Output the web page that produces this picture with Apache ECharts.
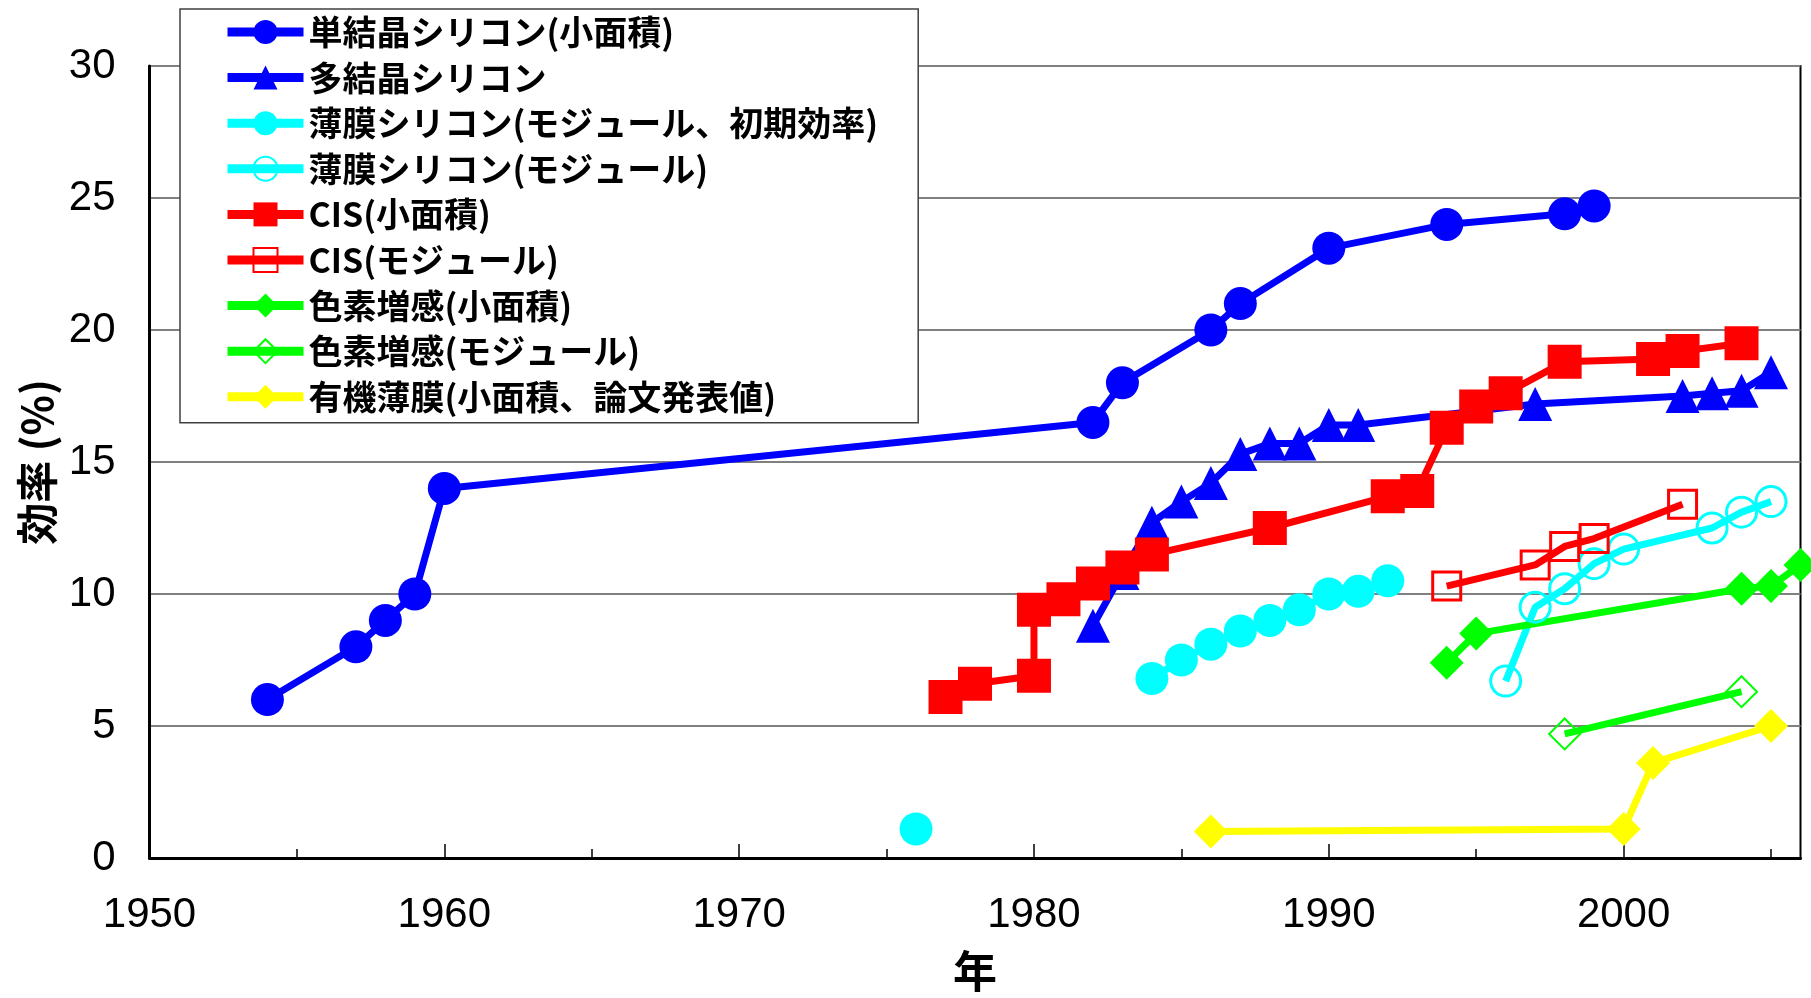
<!DOCTYPE html>
<html>
<head>
<meta charset="utf-8">
<script src="https://cdn.jsdelivr.net/npm/echarts@6/dist/echarts.min.js"></script>
<style>
html,body{margin:0;padding:0;background:#fff;}
#chart{width:1811px;height:998px;}
</style>
</head>
<body>
<div id="chart"></div>
<script>
// ---- data ----
const seriesNames = [
  '単結晶シリコン(小面積)',
  '多結晶シリコン',
  '薄膜シリコン(モジュール、初期効率)',
  '薄膜シリコン(モジュール)',
  'CIS(小面積)',
  'CIS(モジュール)',
  '色素増感(小面積)',
  '色素増感(モジュール)',
  '有機薄膜(小面積、論文発表値)'
];
const monoSiYears = [1954,1957,1958,1959,1960,1982,1983,1986,1987,1990,1994,1998,1999];
const monoSiEff   = [6.0,8.0,9.0,10.0,14.0,16.5,18.0,20.0,21.0,23.1,24.0,24.4,24.7];
const polySiYears = [1982,1983,1984,1985,1986,1987,1988,1989,1990,1991,1997,2002,2003,2004,2005];
const polySiEff   = [8.8,10.8,12.7,13.5,14.2,15.3,15.7,15.7,16.4,16.4,17.2,17.5,17.6,17.7,18.4];
const thinSiInitYears = [1976,null,1984,1985,1986,1987,1988,1989,1990,1991,1992];
const thinSiInitEff   = [1.1,null,6.8,7.5,8.1,8.6,9.0,9.4,10.0,10.1,10.5];
const thinSiModYears = [1996,1997,1998,1999,2000,2003,2004,2005];
const thinSiModEff   = [6.7,9.5,10.2,11.15,11.7,12.5,13.1,13.5];
const cisYears = [1977,1978,1980,1980,1981,1982,1983,1984,1988,1992,1993,1994,1995,1996,1998,2001,2002,2004];
const cisEff   = [6.1,6.6,6.9,9.4,9.8,10.4,11.0,11.5,12.5,13.7,13.9,16.3,17.1,17.6,18.8,18.9,19.2,19.5];
const cisModYears = [1994,1997,1998,1999,2002];
const cisModEff   = [10.3,11.1,11.8,12.1,13.4];
const dyeYears = [1994,1995,2004,2005,2006];
const dyeEff   = [7.4,8.5,10.2,10.3,11.1];
const dyeModYears = [1998,2004];
const dyeModEff   = [4.7,6.3];
const orgYears = [1986,2000,2001,2005];
const orgEff   = [1.0,1.1,3.6,5.0];
const xLabelValues = [1950,1960,1970,1980,1990,2000];
const xMinorTickValues = [1955,1965,1975,1985,1995,2005];
const yTicks = [0,5,10,15,20,25,30];

// ---- helpers ----
function pairs(xs, ys){
  return xs.map((x,i)=> (x===null||ys[i]===null) ? ['-','-'] : [x, ys[i]]);
}
const CJK = '"Noto Sans CJK JP", "Noto Sans CJK SC", sans-serif';
const NUM = '"Liberation Sans", Arial, sans-serif';
const LW = 7;

function filled(name, xs, ys, color, symbol, size){
  return {
    name, type:'line', data: pairs(xs, ys), symbol, symbolSize: size,
    lineStyle:{color, width:LW}, itemStyle:{color, borderWidth:0},
    emphasis:{disabled:true}, animation:false, connectNulls:false
  };
}
function hollow(name, xs, ys, color, symbol, size, bw){
  return {
    name, type:'line', data: pairs(xs, ys), symbol, symbolSize: size,
    lineStyle:{color, width:LW},
    itemStyle:{color:'rgba(255,255,255,0)', borderColor:color, borderWidth:bw},
    emphasis:{disabled:true}, animation:false
  };
}

const series = [
  filled(seriesNames[0], monoSiYears, monoSiEff, '#0000FF', 'circle', 33),
  filled(seriesNames[1], polySiYears, polySiEff, '#0000FF', 'triangle', 34),
  filled(seriesNames[2], thinSiInitYears, thinSiInitEff, '#00FFFF', 'circle', 33),
  hollow(seriesNames[3], thinSiModYears, thinSiModEff, '#00FFFF', 'circle', 30, 3),
  filled(seriesNames[4], cisYears, cisEff, '#FF0000', 'rect', 34),
  hollow(seriesNames[5], cisModYears, cisModEff, '#FF0000', 'rect', 28, 3),
  filled(seriesNames[6], dyeYears, dyeEff, '#00FF00', 'diamond', 34),
  hollow(seriesNames[7], dyeModYears, dyeModEff, '#00FF00', 'diamond', 31, 2),
  filled(seriesNames[8], orgYears, orgEff, '#FFFF00', 'diamond', 34)
];

const chart = echarts.init(document.getElementById('chart'), null, {renderer:'canvas'});
chart.setOption({
  animation:false,
  backgroundColor:'#fff',
  grid:{left:149.5, right:10.5, top:66, bottom:135, show:true, borderColor:'#000', borderWidth:2, containLabel:false},
  legend:{
    show:true, orient:'vertical', left:180, top:9,
    padding:[5,40,8,43],
    itemWidth:76, itemHeight:30, itemGap:9.6,
    backgroundColor:'#fff', borderColor:'#404040', borderWidth:1.5,
    textStyle:{fontSize:34, fontWeight:'bold', color:'#000', fontFamily:CJK, lineHeight:36},
    lineStyle:{width:9},
    selectedMode:false,
    data: seriesNames
  },
  xAxis:[
    {
      type:'value', min:1950, max:2006, interval:5, position:'bottom',
      name:'年', nameLocation:'middle', nameGap:91,
      nameTextStyle:{fontSize:44, fontWeight:'bold', color:'#000', fontFamily:CJK},
      axisLine:{show:true, onZero:false, lineStyle:{color:'#000', width:3}},
      axisTick:{show:true, inside:true, length:9, lineStyle:{color:'#000', width:1.5}, customValues:xMinorTickValues},
      axisLabel:{show:true, margin:36, fontSize:42, color:'#000', fontFamily:NUM, customValues:xLabelValues,
        formatter:(v)=> (v % 10 === 0 && v <= 2000) ? String(v) : ''},
      splitLine:{show:false}
    },
    {
      type:'value', min:1950, max:2006, interval:10, position:'bottom', gridIndex:0,
      axisLine:{show:false, onZero:false},
      axisTick:{show:true, inside:true, length:14, lineStyle:{color:'#000', width:1.5}, customValues:xLabelValues},
      axisLabel:{show:false},
      splitLine:{show:false}
    }
  ],
  yAxis:{
    type:'value', min:0, max:30, interval:5,
    name:'効率 (%)', nameLocation:'middle', nameGap:88, nameRotate:90,
    nameTextStyle:{fontSize:42, fontWeight:'bold', color:'#000', fontFamily:CJK},
    axisLine:{show:true, onZero:false, lineStyle:{color:'#000', width:3}},
    axisTick:{show:false},
    axisLabel:{show:true, margin:34, fontSize:42, color:'#000', fontFamily:NUM,
      customValues:yTicks},
    splitLine:{show:true, lineStyle:{color:'#808080', width:2}}
  },
  series
});
</script>
</body>
</html>
